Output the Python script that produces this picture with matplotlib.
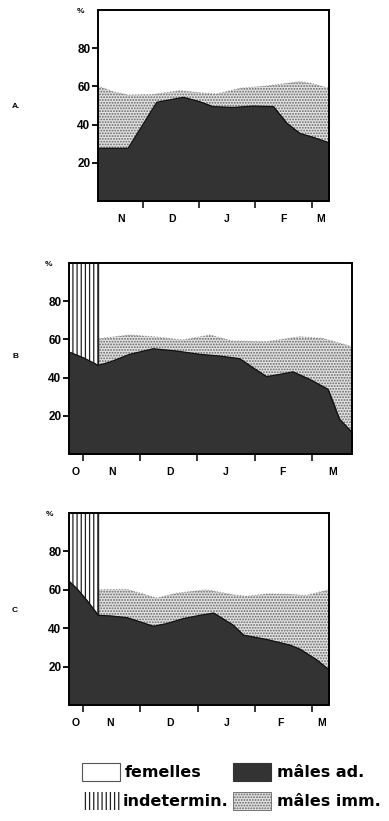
import matplotlib
matplotlib.use("Agg")
import matplotlib.pyplot as plt
from matplotlib.patches import Rectangle
import numpy as np

plt.rcParams['font.family'] = ['Liberation Sans', 'DejaVu Sans']
plt.rcParams['hatch.linewidth'] = 0.9

# x en mois : 1 = 1er novembre, 2 = 1er decembre, ... 5 = 1er mars

# --- A ---
a_ad_x = [1.206, 1.74, 2.25, 2.72, 3.01, 3.25, 3.61, 3.96, 4.32, 4.56, 4.79, 5.03, 5.307]
a_ad = [27.6, 27.6, 51.7, 54.3, 52.0, 49.4, 49.0, 49.7, 49.4, 40.7, 35.4, 33.3, 30.5]
a_imm_x = [1.206, 1.48, 1.74, 2.19, 2.66, 3.01, 3.31, 3.73, 4.20, 4.79, 5.03, 5.307]
a_imm = [60.2, 57.2, 55.5, 55.8, 57.8, 56.7, 56.0, 59.0, 60.2, 62.5, 61.3, 59.0]

# --- B ---
b_ad_x = [0.76, 1.01, 1.27, 1.48, 1.82, 2.23, 2.64, 3.04, 3.39, 3.74, 3.97, 4.21,
          4.44, 4.67, 4.96, 5.28, 5.48, 5.70]
b_ad = [53.4, 50.4, 46.4, 48.2, 52.2, 55.1, 53.9, 52.2, 51.3, 49.9, 45.2, 40.5,
        41.7, 43.0, 39.1, 33.9, 18.3, 11.3]
b_imm_x = [1.27, 1.82, 2.23, 2.75, 3.22, 3.62, 4.21, 4.79, 5.19, 5.70]
b_imm = [60.3, 62.3, 61.4, 59.7, 62.3, 59.1, 58.8, 61.4, 60.5, 56.2]
b_ind_end = 1.27

# --- C ---
c_ad_x = [0.76, 0.90, 1.07, 1.27, 1.48, 1.77, 2.00, 2.23, 2.46, 2.75, 3.04, 3.28,
          3.62, 3.80, 4.21, 4.61, 4.79, 5.08, 5.29]
c_ad = [64.5, 60.5, 54.5, 46.7, 46.4, 45.5, 43.3, 41.0, 42.4, 45.0, 46.7, 47.9,
        41.6, 36.4, 34.1, 31.2, 29.0, 23.4, 18.3]
c_imm_x = [1.27, 1.77, 2.29, 2.65, 3.16, 3.62, 3.86, 4.21, 4.61, 4.90, 5.29]
c_imm = [60.0, 60.2, 55.7, 58.3, 60.0, 57.4, 56.6, 57.9, 57.6, 57.1, 60.0]
c_ind_end = 1.27

y_ticks = [20, 40, 60, 80]

col_ad = '#333333'
col_imm = '#e2e2e2'
col_dot = '#666666'

W, H = 389, 821


def draw_panel(ax, ad_x, ad, imm_x, imm, ind_end, xlim, ticks, mlabels, mpos):
    ax.fill_between(imm_x, 0, imm, facecolor=col_imm, edgecolor=col_dot,
                    hatch='......', linewidth=0, zorder=1)
    ax.plot(imm_x, imm, color='#999999', lw=0.8, ls=':', zorder=3)
    ad_x = np.array(ad_x)
    ad = np.array(ad)
    if ind_end is not None:
        ax.fill_between(ad_x, ad, 100, where=ad_x <= ind_end, facecolor='white',
                        edgecolor='#222222', hatch='||||', linewidth=0, zorder=1)
        ax.plot([ind_end, ind_end], [np.interp(ind_end, ad_x, ad), 100],
                color='#222222', lw=1.0, zorder=3)
    ax.fill_between(ad_x, 0, ad, facecolor=col_ad, edgecolor=col_ad, linewidth=0.8, zorder=2)
    ax.plot(ad_x, ad, color='#111111', lw=0.9, zorder=3)

    ax.set_yticks(y_ticks)
    ax.set_yticklabels([str(v) for v in y_ticks], fontsize=8.5, fontweight='bold')
    ax.set_xticks(ticks)
    ax.set_xticklabels([''] * len(ticks))
    ax.set_xticks(mpos, minor=True)
    ax.set_xticklabels(mlabels, minor=True, fontsize=7.5, fontweight='bold')
    ax.set_xlim(*xlim)
    ax.set_ylim(0, 100)
    ax.tick_params(axis='y', direction='out', length=4, width=1.3, pad=1.5)
    ax.tick_params(axis='x', which='major', direction='out', length=5, width=1.1)
    ax.tick_params(axis='x', which='minor', length=0, pad=9)
    for s in ax.spines.values():
        s.set_linewidth(1.4)
        s.set_zorder(5)
    ax.text(-0.06, 0.99, '%', transform=ax.transAxes, fontsize=6, fontweight='bold',
            ha='right', va='center')


fig = plt.figure(figsize=(W / 100, H / 100), dpi=100)


def axes_px(left, top, right, bottom):
    return fig.add_axes([left / W, 1 - bottom / H, (right - left) / W, (bottom - top) / H])


axA = axes_px(98, 10, 329, 201)
draw_panel(axA, a_ad_x, a_ad, a_imm_x, a_imm, None, (1.206, 5.307), [2, 3, 4, 5],
           ['N', 'D', 'J', 'F', 'M'], [1.61, 2.52, 3.49, 4.49, 5.16])

axB = axes_px(69, 263, 352, 454)
draw_panel(axB, b_ad_x, b_ad, b_imm_x, b_imm, b_ind_end, (0.76, 5.70), [1, 2, 3, 4, 5],
           ['O', 'N', 'D', 'J', 'F', 'M'], [0.88, 1.51, 2.52, 3.50, 4.49, 5.36])

axC = axes_px(69, 513, 329, 705)
draw_panel(axC, c_ad_x, c_ad, c_imm_x, c_imm, c_ind_end, (0.76, 5.29), [1, 2, 3, 4, 5],
           ['O', 'N', 'D', 'J', 'F', 'M'], [0.88, 1.48, 2.52, 3.50, 4.44, 5.17])

fig.text(16 / W, 1 - 106 / H, 'A.', fontsize=6, fontweight='bold', ha='center', va='center')
fig.text(16 / W, 1 - 357 / H, 'B', fontsize=6, fontweight='bold', ha='center', va='center')
fig.text(15 / W, 1 - 610 / H, 'C', fontsize=6, fontweight='bold', ha='center', va='center')

# legende
legend_items = [
    ('femelles', dict(facecolor='white', edgecolor='#555555', lw=0.8), 82, 772, 125),
    ('mâles ad.', dict(facecolor=col_ad, edgecolor=col_ad, lw=0.8), 233, 772, 277),
    ('indetermin.', dict(facecolor='white', edgecolor='#222222', hatch='||||', lw=0), 82, 801, 123),
    ('mâles imm.', dict(facecolor=col_imm, edgecolor=col_dot, hatch='......', lw=0.6), 233, 801, 277),
]
for label, style, bx, cy, tx in legend_items:
    r = Rectangle((bx / W, 1 - (cy + 9) / H), 38 / W, 18 / H, transform=fig.transFigure, **style)
    fig.add_artist(r)
    fig.text(tx / W, 1 - cy / H, label, fontsize=11.5, fontweight='bold', ha='left', va='center',
             family=['DejaVu Sans'])

fig.savefig('out.png', dpi=100)
